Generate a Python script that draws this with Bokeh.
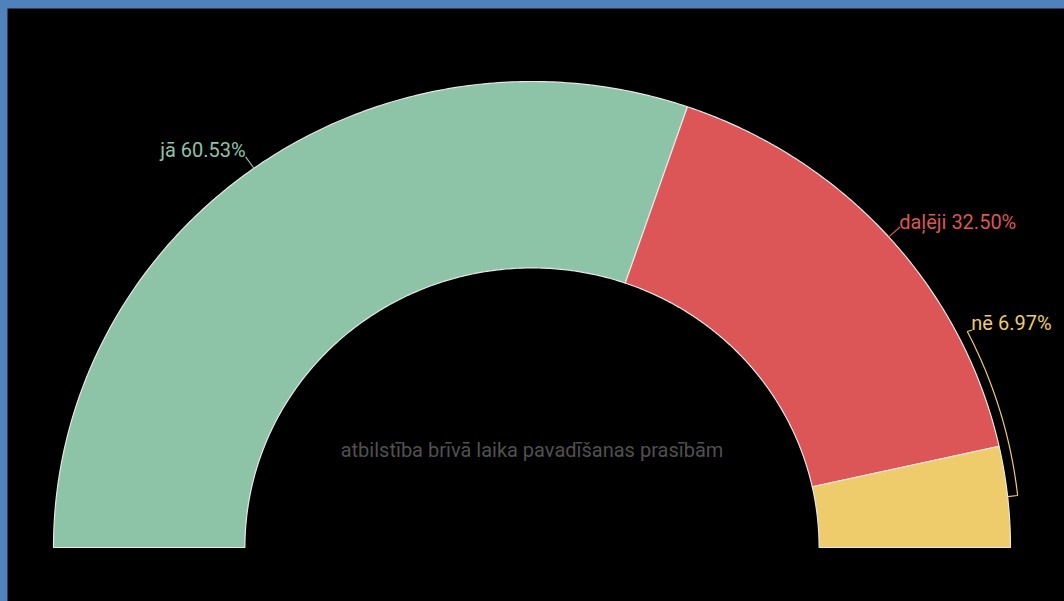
import numpy as np
from bokeh.plotting import figure
from bokeh.models import Range1d
from bokeh.core.properties import value
from bokeh.embed import file_html
from bokeh.resources import INLINE

# ---- data ----
categories = ["jā", "daļēji", "nē"]
shares = [60.53, 32.50, 6.97]
colors = ["#8dc3a7", "#dc5557", "#eecb6b"]
center_title = "atbilstība brīvā laika pavadīšanas prasībām"

# ---- layout constants ----
W, H = 1057, 593
CX_PX, CY_PX = 524.5, 54.0      # centre in figure pixels (from left / from bottom)
RX_PX, RY_PX = 478.5, 466.0     # pixels per unit radius (x / y)
R_OUT, R_IN = 1.0, 0.6

p = figure(width=W, height=H, output_backend="svg", toolbar_location=None,
           x_range=Range1d(-CX_PX / RX_PX, (W - CX_PX) / RX_PX),
           y_range=Range1d(-CY_PX / RY_PX, (H - CY_PX) / RY_PX),
           min_border=0, background_fill_color="black", border_fill_color="black",
           outline_line_color=None)
p.axis.visible = False
p.grid.visible = False

# slice angles (degrees, 180 -> 0 clockwise)
total = sum(shares)
ends = 180 - np.cumsum(shares) / total * 180
starts = np.concatenate([[180.0], ends[:-1]])

xs, ys = [], []
for a0, a1 in zip(starts, ends):
    t = np.radians(np.linspace(a0, a1, 200))
    ox, oy = R_OUT * np.cos(t), R_OUT * np.sin(t)
    ix, iy = R_IN * np.cos(t[::-1]), R_IN * np.sin(t[::-1])
    xs.append(list(np.concatenate([ox, ix])))
    ys.append(list(np.concatenate([oy, iy])))

p.patches(xs=xs, ys=ys, fill_color=colors, line_color="#e6e6e6", line_width=1.2)

mids = (starts + ends) / 2

def pt(r, deg):
    a = np.radians(deg)
    return r * np.cos(a), r * np.sin(a)

font = value("Roboto")
fs = "20px"

# jā label (left)
x0, y0 = pt(R_OUT, mids[0]); x1, y1 = pt(1.03, mids[0])
p.line([x0, x1], [y0, y1], line_color=colors[0], line_width=1.2)
p.text([x1], [y1], text=[f"{categories[0]} {shares[0]:.2f}%"], text_align="right",
       text_baseline="middle", x_offset=0, y_offset=-7, text_color=colors[0],
       text_font=font, text_font_size=fs)

# daļēji label
x0, y0 = pt(R_OUT, mids[1]); x1, y1 = pt(1.032, mids[1])
p.line([x0, x1], [y0, y1], line_color=colors[1], line_width=1.2)
p.text([x1], [y1], text=[f"{categories[1]} {shares[1]:.2f}%"], text_align="left",
       text_baseline="middle", x_offset=-1, y_offset=-5, text_color=colors[1],
       text_font=font, text_font_size=fs)

# nē label with curved leader
r_b = 1.021
lab_ang = 27.0
t = np.radians(np.linspace(mids[2], lab_ang, 60))
bx = [R_OUT * np.cos(np.radians(mids[2]))] + list(r_b * np.cos(t))
by = [R_OUT * np.sin(np.radians(mids[2]))] + list(r_b * np.sin(t))
lx, ly = pt(r_b, lab_ang)
bx.append(lx + 5 / RX_PX); by.append(ly + 1.5 / RY_PX)
p.line(bx, by, line_color=colors[2], line_width=1.2)
p.text([lx], [ly], text=[f"{categories[2]} {shares[2]:.2f}%"], text_align="left",
       text_baseline="middle", x_offset=4, y_offset=-8, text_color=colors[2],
       text_font=font, text_font_size=fs)

# centre title
p.text([0], [0], text=[center_title], text_align="center", text_baseline="middle",
       y_offset=-98, text_color="#505050", text_font=font, text_font_size=fs)

html = file_html(p, INLINE)
html = html.replace(
    "</head>",
    "<style>html,body{background:#4f81bd;overflow:hidden;}"
    "body{margin:0 !important;padding:8px 0 0 7px !important;}</style></head>", 1)
open("out.html", "w").write(html)
